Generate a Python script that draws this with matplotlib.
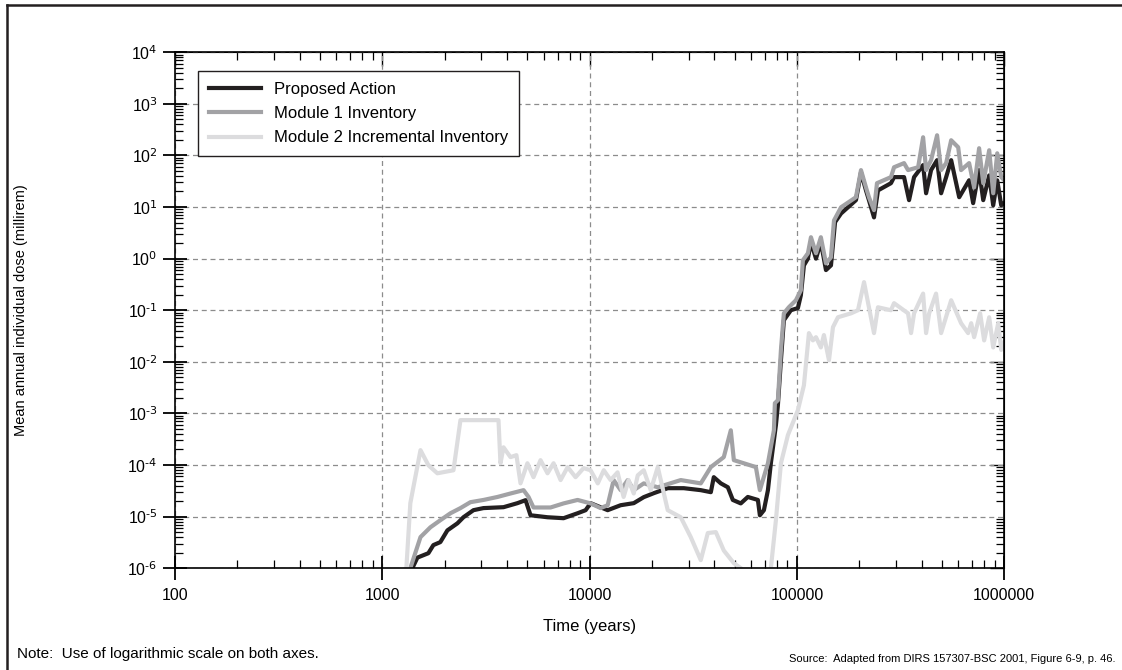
import numpy as np
import matplotlib
matplotlib.use('Agg')
import matplotlib.pyplot as plt
from matplotlib.lines import Line2D
from matplotlib.ticker import LogLocator, FuncFormatter, NullFormatter

plt.rcParams['font.family'] = ['Liberation Sans', 'DejaVu Sans']
plt.rcParams['axes.unicode_minus'] = False

# Proposed Action (years, millirem)
pa_years = [1396, 1476, 1668, 1763, 1905, 2060, 2303, 2462, 2752, 3076, 3843, 4487,
            4910, 5188, 6266, 7489, 8750, 9566, 10110, 12220, 14120, 16330, 18250,
            20390, 23820, 28460, 34380, 38440, 39730, 42960, 46440, 49080, 53610,
            57970, 64830, 66280, 69320, 72480, 74890, 77450, 79200, 80960, 83740,
            86510, 93540, 101100, 104500, 108100, 113000, 116900, 123600, 130500,
            138100, 146000, 152800, 163300, 192700, 203800, 215400, 222600, 235500,
            246100, 284300, 294200, 328800, 347600, 367500, 406300, 420000, 443900,
            474500, 496300, 524800, 554900, 606700, 677400, 708300, 756900, 792300,
            846500, 885100, 925600, 967600, 1000000]
pa_dose = [1.0e-6, 1.6e-6, 1.95e-6, 2.8e-6, 3.2e-6, 5.4e-6, 7.4e-6, 9.7e-6, 1.33e-5,
           1.46e-5, 1.52e-5, 1.82e-5, 2.08e-5, 1.06e-5, 9.7e-6, 9.3e-6, 1.16e-5,
           1.33e-5, 1.82e-5, 1.33e-5, 1.66e-5, 1.82e-5, 2.38e-5, 2.84e-5, 3.55e-5,
           3.55e-5, 3.25e-5, 2.97e-5, 5.8e-5, 4.4e-5, 3.7e-5, 2.1e-5, 1.8e-5, 2.4e-5,
           2.1e-5, 1.06e-5, 1.33e-5, 3.25e-5, 1.08e-4, 3.0e-4, 5.9e-4, 1.44e-3,
           1.07e-2, 6.4e-2, 0.1, 0.11, 0.195, 0.74, 1.0, 2.1, 1.0, 2.1, 0.6, 0.74,
           5.1, 7.5, 13.6, 47, 21, 13.6, 6.3, 21, 29, 38, 38, 13.6, 38, 65, 18.5,
           52, 81, 18.5, 38, 81, 15.5, 33, 11.9, 52, 13.6, 41, 10.8, 33, 10.8, 11.9]

# Module 1 Inventory
m1_years = [1365, 1528, 1706, 1905, 2132, 2382, 2660, 3076, 3594, 4152, 4801, 5075,
            5361, 6480, 7489, 8750, 10110, 11300, 12220, 13060, 14120, 15270, 16330,
            18250, 21320, 27530, 34380, 38440, 44390, 47990, 49640, 55440, 63400,
            66280, 72480, 77450, 78300, 80960, 83740, 86510, 91400, 98900, 104500,
            106900, 113000, 116900, 123600, 130500, 138100, 146000, 151000, 163300,
            192700, 203800, 215400, 222600, 235500, 243400, 284300, 294200, 328800,
            343700, 384500, 406300, 420000, 443900, 474500, 496300, 524800, 554900,
            599800, 619500, 677400, 716100, 756900, 792300, 846500, 885100, 925600,
            967600, 1000000]
m1_dose = [1.0e-6, 4.0e-6, 6.2e-6, 8.5e-6, 1.16e-5, 1.46e-5, 1.9e-5, 2.1e-5, 2.4e-5,
           2.8e-5, 3.25e-5, 2.4e-5, 1.5e-5, 1.5e-5, 1.8e-5, 2.1e-5, 1.8e-5, 1.46e-5,
           1.66e-5, 5.1e-5, 3.25e-5, 5.1e-5, 3.25e-5, 4.4e-5, 3.7e-5, 5.1e-5, 4.4e-5,
           9.1e-5, 1.42e-4, 4.7e-4, 1.24e-4, 1.08e-4, 9.1e-5, 3.25e-5, 1.08e-4,
           4.7e-4, 1.58e-3, 1.8e-3, 1.68e-2, 8.7e-2, 0.114, 0.156, 0.244, 0.93, 1.27,
           2.6, 1.27, 2.6, 0.81, 1.06, 5.5, 9.9, 15.5, 52, 24, 15.5, 8.7, 29, 38, 59,
           71, 52, 59, 225, 52, 81, 246, 52, 71, 197, 144, 52, 71, 24, 138, 29, 126,
           18.5, 110, 38, 33]

# Module 2 Incremental Inventory (drops below the plotted range between ~54000 and ~75000 years)
m2_years = [1306, 1365, 1528, 1668, 1843, 2204, 2382, 3634, 3715, 3843, 4152, 4436,
            4641, 5012, 5361, 5798, 6266, 6700, 7245, 7834, 8556, 9350, 10110, 10950,
            11700, 12630, 13640, 14590, 15420, 16330, 17070, 18250, 19720, 21320,
            23820, 27530, 30760, 34380, 37170, 40640, 44390, 49640, 53610, 64000,
            74890, 79200, 83740, 90500, 101100, 108100, 114300, 119400, 123600,
            130500, 135000, 142800, 149300, 157800, 182400, 197100, 210800, 222600,
            235500, 246100, 284300, 294200, 343700, 355400, 367500, 406300, 420000,
            434500, 469100, 496300, 554900, 619500, 669800, 693200, 716100, 765600,
            800300, 846500, 885100, 935800, 967600, 1000000]
m2_dose = [1.0e-6, 1.82e-5, 1.94e-4, 9.9e-5, 6.9e-5, 7.9e-5, 7.4e-4, 7.4e-4, 1.08e-4,
           2.2e-4, 1.42e-4, 1.55e-4, 4.4e-5, 1.08e-4, 5.8e-5, 1.24e-4, 6.9e-5,
           1.08e-4, 5.1e-5, 9.1e-5, 5.8e-5, 8.7e-5, 7.9e-5, 4.4e-5, 7.9e-5, 5.1e-5,
           7.2e-5, 2.4e-5, 5.1e-5, 2.8e-5, 6.3e-5, 7.9e-5, 3.25e-5, 9.1e-5, 1.33e-5,
           9.7e-6, 4.0e-6, 1.43e-6, 4.8e-6, 5.0e-6, 2.2e-6, 1.25e-6, 1.0e-6, np.nan,
           1.0e-6, 8.5e-6, 1.08e-4, 3.8e-4, 1.15e-3, 3.5e-3, 3.6e-2, 2.6e-2, 3.0e-2,
           1.9e-2, 3.3e-2, 1.07e-2, 4.7e-2, 7.3e-2, 8.7e-2, 0.1, 0.35, 0.114, 3.6e-2,
           0.114, 0.1, 0.137, 8.7e-2, 3.6e-2, 8.7e-2, 0.21, 3.6e-2, 8.7e-2, 0.21,
           3.6e-2, 0.156, 5.6e-2, 3.6e-2, 5.6e-2, 3.0e-2, 8.7e-2, 2.6e-2, 7.3e-2,
           1.9e-2, 5.6e-2, 1.7e-2, 2.4e-2]

labels = ['Proposed Action', 'Module 1 Inventory', 'Module 2 Incremental Inventory']
colors = ['#231f20', '#a2a2a5', '#dcdcde']
lw = 3.0

fig = plt.figure(figsize=(11.22, 6.70), dpi=100)
ax = fig.add_axes([0.156, 0.152, 0.739, 0.770])

ax.plot(pa_years, pa_dose, color=colors[0], lw=lw, label=labels[0], solid_joinstyle='round')
ax.plot(m1_years, m1_dose, color=colors[1], lw=lw, label=labels[1], solid_joinstyle='round')
ax.plot(m2_years, m2_dose, color=colors[2], lw=lw, label=labels[2], solid_joinstyle='round')

ax.set_xscale('log')
ax.set_yscale('log')
ax.set_xlim(100, 1e6)
ax.set_ylim(1e-6, 1e4)


def pow10(v, pos):
    return r'$\mathdefault{10^{\text{%d}}}$' % round(np.log10(v))


ax.xaxis.set_major_locator(LogLocator(base=10, numticks=20))
ax.xaxis.set_minor_locator(LogLocator(base=10, subs=np.arange(2, 10), numticks=20))
ax.yaxis.set_major_locator(LogLocator(base=10, numticks=20))
ax.yaxis.set_minor_locator(LogLocator(base=10, subs=np.arange(2, 10), numticks=20))
ax.xaxis.set_major_formatter(FuncFormatter(lambda v, p: '%d' % round(v)))
ax.yaxis.set_major_formatter(FuncFormatter(pow10))
ax.xaxis.set_minor_formatter(NullFormatter())
ax.yaxis.set_minor_formatter(NullFormatter())

ax.grid(True, which='major', linestyle=(0, (4, 3)), color='#8c8c8c', lw=0.9)
for s in ax.spines.values():
    s.set_linewidth(1.2)

ax.tick_params(which='major', direction='inout', length=17, width=1.3, labelsize=11.5, pad=4)
ax.tick_params(which='minor', direction='in', length=6, width=0.9)
ax.tick_params(axis='x', which='major', pad=6)

# inward ticks along the top and right edges
top = ax.secondary_xaxis('top')
top.xaxis.set_minor_locator(LogLocator(base=10, subs=np.arange(2, 10), numticks=20))
top.tick_params(which='major', direction='in', length=10, width=1.0, labeltop=False)
top.tick_params(which='minor', direction='in', length=6, width=0.9)
top.xaxis.set_minor_formatter(NullFormatter())
right = ax.secondary_yaxis('right')
right.yaxis.set_minor_locator(LogLocator(base=10, subs=np.arange(2, 10), numticks=20))
right.tick_params(which='major', direction='in', length=10, width=1.0, labelright=False)
right.tick_params(which='minor', direction='in', length=6, width=0.9)
right.yaxis.set_minor_formatter(NullFormatter())

ax.set_xlabel('Time (years)', fontsize=12)
ax.xaxis.set_label_coords(0.5, -0.099)
ax.set_ylabel('Mean annual individual dose (millirem)', fontsize=10.5)
ax.yaxis.set_label_coords(-0.177, 0.5)

leg = ax.legend(loc='upper left', bbox_to_anchor=(0.028, 0.963), fontsize=12,
                frameon=True, fancybox=False, edgecolor='#231f20', framealpha=1,
                handlelength=3.1, handletextpad=0.8, borderpad=0.64, labelspacing=0.55,
                borderaxespad=0)
leg.get_frame().set_linewidth(1.0)

fig.text(0.015, 0.024, 'Note:  Use of logarithmic scale on both axes.', fontsize=11,
         ha='left', va='center')
fig.text(0.994, 0.016, 'Source:  Adapted from DIRS 157307-BSC 2001, Figure 6-9, p. 46.',
         fontsize=8, ha='right', va='center')

# page frame
fig.add_artist(Line2D([0.0062, 1.0], [0.9925, 0.9925], transform=fig.transFigure,
                      color='#231f20', lw=1.8))
fig.add_artist(Line2D([0.0062, 0.0062], [0.0, 0.9925], transform=fig.transFigure,
                      color='#231f20', lw=1.8))

fig.savefig('out.png', dpi=100)
